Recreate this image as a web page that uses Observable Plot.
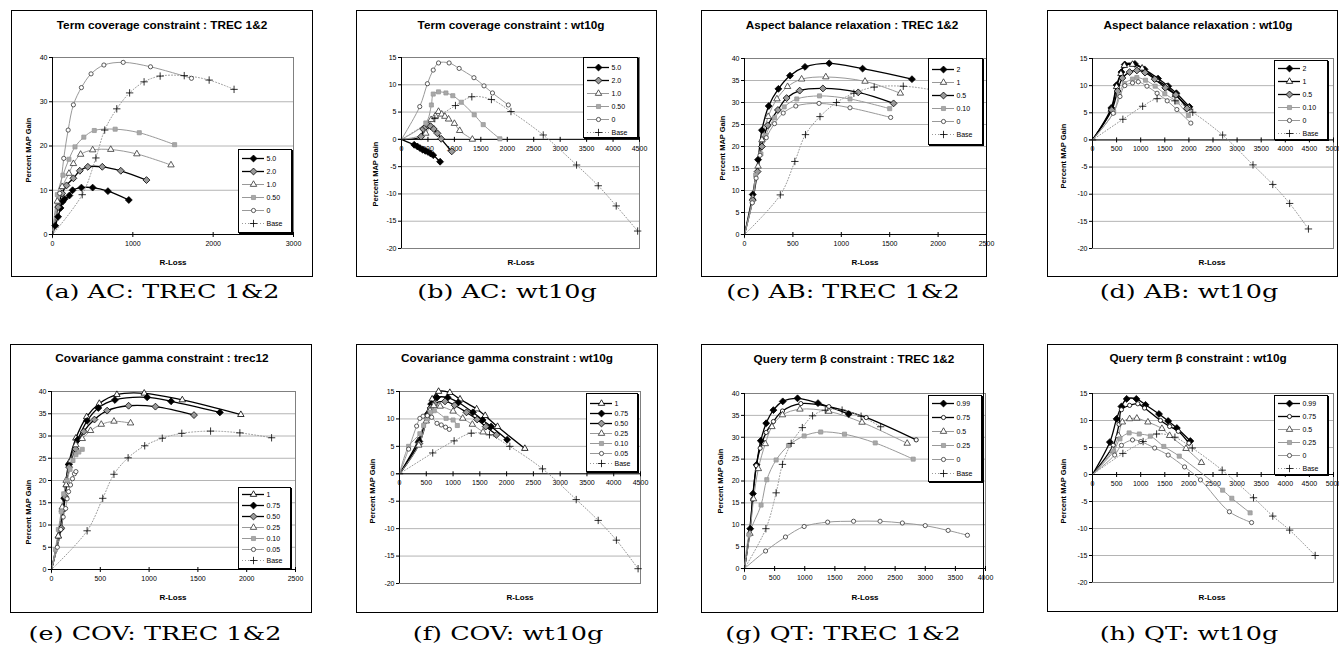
<!DOCTYPE html>
<html><head><meta charset="utf-8">
<script src="https://cdn.jsdelivr.net/npm/d3@7"></script>
<script src="https://cdn.jsdelivr.net/npm/@observablehq/plot@0.6"></script>
<style>
body{margin:0;background:#fff;width:1339px;height:647px;position:relative;overflow:hidden;font-family:"Liberation Sans",Arial,sans-serif;color:#000}
.box{position:absolute;border:1px solid #000;box-sizing:border-box;pointer-events:none}
.pl{position:absolute}
.title{position:absolute;font-weight:bold;font-size:11px;white-space:nowrap;transform:translate(-50%,-50%) scaleX(1.07)}
.xl{position:absolute;font-weight:bold;font-size:8px;white-space:nowrap;transform:translate(-50%,-50%)}
.yl{position:absolute;font-weight:bold;font-size:7.5px;white-space:nowrap;transform:translate(-50%,-50%) rotate(-90deg)}
.cap{position:absolute;font-family:"DejaVu Serif",serif;font-size:19px;white-space:nowrap;transform:translate(-50%,-50%) scaleX(1.34)}
.leg{position:absolute;border:1px solid #000;box-shadow:1px 1px 0 #000;background:#fff;box-sizing:border-box}
</style></head><body>
<script>
// ---------- tick labels ----------
const ticksX3000 = [0,1000,2000,3000];
const ticksX2500 = [0,500,1000,1500,2000,2500];
const ticksX4000 = [0,500,1000,1500,2000,2500,3000,3500,4000];
const ticksX4500 = [0,500,1000,1500,2000,2500,3000,3500,4000,4500];
const ticksX5000 = [0,500,1000,1500,2000,2500,3000,3500,4000,4500,5000];
const ticksY40by10 = [0,10,20,30,40];
const ticksY40by5 = [0,5,10,15,20,25,30,35,40];
const ticksYwt = [-20,-15,-10,-5,0,5,10,15];

// ---------- (a) Term coverage : TREC 1&2 ----------
const acTrecNames = ["5.0","2.0","1.0","0.50","0","Base"];
const acTrec_5 = [[0,0],[35,2],[70,4],[100,6],[125,7.4],[150,8],[210,8.8],[250,10],[360,10.6],[500,10.6],[690,9.8],[950,7.8]];
const acTrec_2 = [[0,0],[70,6.2],[120,9.3],[175,11.1],[260,12.7],[340,14.4],[440,15.3],[620,15.3],[850,14.4],[1170,12.3]];
const acTrec_1 = [[0,0],[60,7.5],[120,10.8],[205,13.8],[260,16],[350,18.1],[500,19.1],[725,19.2],[1050,18.2],[1475,15.7]];
const acTrec_050 = [[0,0],[60,9],[130,13.4],[205,17],[280,19.8],[390,22],[520,23.5],[780,23.8],[1080,23],[1520,20.3]];
const acTrec_0 = [[0,0],[90,9.3],[140,17.2],[195,23.6],[260,29.3],[360,33.2],[480,36.3],[640,38.3],[880,38.9],[1220,37.9],[1730,35.3]];
const acTrec_base = [[0,0],[370,9],[540,17.3],[650,23.6],[800,28.4],[960,32],[1140,34.5],[1340,35.8],[1640,35.9],[1950,34.9],[2260,32.8]];

// ---------- (b) Term coverage : wt10g ----------
const acWtNames = ["5.0","2.0","1.0","0.50","0","Base"];
const acWt_5 = [[0,0],[240,-1.0],[300,-1.3],[350,-1.6],[400,-1.9],[450,-2.1],[500,-2.3],[550,-2.6],[600,-2.9],[730,-4.1]];
const acWt_2 = [[0,0],[370,0.5],[410,1.9],[460,2.3],[500,2.6],[550,2.4],[610,1.9],[680,1.1],[750,0.1],[950,-2.2]];
const acWt_1 = [[0,0],[460,1.1],[560,3.6],[640,4.3],[700,5.1],[760,4.6],[820,4.2],[890,3.7],[1000,2.9],[1100,1.6],[1340,0]];
const acWt_050 = [[0,0],[460,3],[565,6.3],[600,8.3],[700,8.7],[840,8.5],[970,8],[1130,6.8],[1375,4.5],[1545,2.7],[1860,0.1]];
const acWt_0 = [[0,0],[345,6],[490,10.2],[600,12.7],[700,14],[900,14],[1090,13],[1370,11.3],[1560,9.8],[1720,8.5],[2020,6.3]];
const acWt_base = [[0,0],[630,3.8],[1020,6.2],[1330,7.8],[1700,7.3],[2070,5.1],[2680,0.8],[3310,-4.7],[3720,-8.5],[4060,-12.2],[4465,-16.8]];

// ---------- (c) Aspect balance : TREC 1&2 ----------
const abTrecNames = ["2","1","0.5","0.10","0","Base"];
const abTrec_2 = [[0,0],[85,9.1],[140,17],[180,23.7],[250,29.2],[350,33.1],[470,36.1],[625,38.1],[875,38.9],[1220,37.7],[1730,35.3]];
const abTrec_1 = [[0,0],[85,8.3],[140,15.5],[180,21.5],[245,26.8],[335,30.8],[445,33.6],[590,35.3],[840,35.8],[1245,34.8],[1610,32.1]];
const abTrec_05 = [[0,0],[85,7.8],[135,14.3],[180,20],[240,24.8],[345,28.3],[435,31],[570,32.7],[810,33.2],[1175,32.3],[1540,29.8]];
const abTrec_010 = [[0,0],[80,7.5],[115,13.5],[170,18.3],[220,22.5],[310,26.5],[410,29],[540,30.8],[775,31.5],[1090,30.8],[1500,28.6]];
const abTrec_0 = [[0,0],[80,7.2],[120,12.8],[160,18],[225,22],[310,25.2],[400,27.6],[530,29.2],[770,29.8],[1090,28.8],[1510,26.6]];
const abTrec_base = [[0,0],[370,9],[520,16.6],[630,22.7],[780,26.8],[950,30],[1130,32.1],[1340,33.5],[1640,33.7],[1950,32.8],[2260,31]];

// ---------- (d) Aspect balance : wt10g ----------
const abWtNames = ["2","1","0.5","0.10","0","Base"];
const abWt_2 = [[0,0],[390,5.9],[500,10.1],[600,12.5],[670,13.9],[880,14],[1080,13],[1360,11.3],[1570,9.9],[1740,8.6],[2010,6.1]];
const abWt_1 = [[0,0],[390,5.6],[500,9.8],[590,12.2],[660,13.7],[830,13.9],[1030,13.2],[1330,11.1],[1540,9.8],[1720,8.3],[2000,5.9]];
const abWt_05 = [[0,0],[400,5.5],[520,9],[620,11.4],[770,12.5],[920,12.8],[1090,12.4],[1290,11.2],[1510,9.6],[1730,8.3],[1960,5.8]];
const abWt_010 = [[0,0],[440,5.1],[550,8.3],[660,10.4],[830,11.2],[920,11.5],[1100,11],[1300,9.9],[1500,8.5],[1750,7],[1990,4.5]];
const abWt_0 = [[0,0],[430,4.9],[570,8],[670,10],[830,10.5],[950,10.7],[1130,9.9],[1340,8.6],[1550,7.2],[1750,5.6],[2040,3.1]];
const abWt_base = [[0,0],[630,3.8],[1040,6.2],[1340,7.6],[1710,7.2],[2080,5.1],[2700,0.9],[3330,-4.6],[3740,-8.2],[4090,-11.7],[4480,-16.4]];

// ---------- (e) Covariance gamma : TREC 1&2 ----------
const covTrecNames = ["1","0.75","0.50","0.25","0.10","0.05","Base"];
const covTrec_1 = [[0,0],[70,7.5],[110,13.5],[150,19],[180,24],[250,29.5],[360,34.3],[490,37.3],[670,39.3],[950,39.6],[1340,38.1],[1940,34.8]];
const covTrec_075 = [[0,0],[90,9],[130,16],[175,23.6],[270,29.2],[365,33.4],[480,36.3],[650,38.1],[980,38.7],[1225,37.8],[1725,35.3]];
const covTrec_050 = [[0,0],[100,9.3],[140,16.3],[180,23],[245,27.1],[330,31],[440,33.7],[570,35.7],[790,36.8],[1065,36.6],[1460,34.7]];
const covTrec_025 = [[0,0],[70,7.5],[110,14],[150,20],[200,24.5],[250,28],[315,29.4],[400,31.2],[510,32.6],[640,33.3],[810,32.9]];
const covTrec_010 = [[0,0],[40,4.5],[70,9],[100,13],[125,17],[160,20],[190,22.5],[220,24.5],[250,25.8],[280,26.4],[315,27]];
const covTrec_005 = [[0,0],[60,5],[95,9],[120,11.8],[145,13.7],[160,15.9],[175,17.5],[195,19],[215,20.4],[235,21.5],[250,22]];
const covTrec_base = [[0,0],[365,8.7],[525,16],[640,21.4],[785,25.1],[955,27.8],[1135,29.5],[1335,30.6],[1630,31.1],[1930,30.7],[2255,29.6]];

// ---------- (f) Covariance gamma : wt10g ----------
const covWtNames = ["1","0.75","0.50","0.25","0.10","0.05","Base"];
const covWt_1 = [[0,0],[350,6],[540,11.3],[610,13.6],[730,15],[940,14.8],[1130,13.6],[1440,11.8],[1600,10.6],[1830,8.6],[2340,4.6]];
const covWt_075 = [[0,0],[370,5.9],[520,10.8],[590,12.7],[700,13.9],[900,13.9],[1100,13],[1370,11.2],[1550,9.8],[1710,8.6],[2010,6.2]];
const covWt_050 = [[0,0],[370,5.5],[520,10.3],[580,12],[655,12.8],[850,13.2],[1030,12.5],[1250,11.2],[1450,9.9],[1610,8.6],[1810,7.1]];
const covWt_025 = [[0,0],[360,5.2],[500,9.6],[570,11.5],[640,12.4],[760,12.3],[1000,11.4],[1180,10.1],[1360,9],[1560,7.6]];
const covWt_010 = [[0,0],[170,5],[380,7.3],[450,8.8],[520,10],[580,11.2],[650,11.5],[870,10.1],[1000,9.8],[1080,8.8]];
const covWt_005 = [[0,0],[170,4.5],[320,8.7],[380,10.1],[440,10.5],[520,10.6],[600,10.3],[700,9.2],[780,8.9],[860,8.5],[930,8.1]];
const covWt_base = [[0,0],[620,3.8],[1020,6],[1340,7.4],[1680,7.1],[2060,5],[2670,0.9],[3300,-4.7],[3710,-8.5],[4050,-12.1],[4455,-17.3]];

// ---------- (g) Query term beta : TREC 1&2 ----------
const qtTrecNames = ["0.99","0.75","0.5","0.25","0","Base"];
const qtTrec_099 = [[0,0],[95,9.1],[140,17.1],[200,23.7],[270,29.2],[360,33.2],[480,36.2],[635,38.2],[880,38.9],[1220,37.8],[1730,35.3]];
const qtTrec_075 = [[0,0],[80,8],[135,15.8],[195,23.5],[260,27.5],[360,31.1],[480,33.6],[630,36],[935,37.7],[1400,37],[2020,34.5],[2850,29.4]];
const qtTrec_05 = [[0,0],[90,8],[150,15.9],[230,22.8],[345,28.5],[455,32.4],[630,35.1],[920,36.4],[1400,35.9],[1950,33.4],[2700,28.6]];
const qtTrec_025 = [[0,0],[75,7.7],[275,14.5],[370,20.3],[525,24.8],[730,28.1],[990,30.3],[1265,31.2],[1660,30.7],[2170,28.7],[2800,25]];
const qtTrec_0 = [[0,0],[350,4],[680,7.2],[990,9.6],[1380,10.6],[1810,10.8],[2250,10.8],[2620,10.4],[3000,9.8],[3380,8.7],[3700,7.6]];
const qtTrec_base = [[0,0],[355,9.1],[525,17.3],[630,23.8],[775,28.6],[960,32.2],[1130,34.9],[1340,36.2],[1620,36.2],[1935,34.8],[2260,32.4]];

// ---------- (h) Query term beta : wt10g ----------
const qtWtNames = ["0.99","0.75","0.5","0.25","0","Base"];
const qtWt_099 = [[0,0],[360,6],[500,10.3],[600,12.6],[710,14],[910,14],[1100,12.9],[1380,11.2],[1570,9.9],[1750,8.6],[2030,6.2]];
const qtWt_075 = [[0,0],[430,5.4],[550,9.3],[600,12],[770,12.8],[940,13.1],[1080,12.3],[1410,10],[1600,8.9],[1780,8],[2000,5.8]];
const qtWt_05 = [[0,0],[420,4.5],[540,7.2],[620,9.7],[770,10.3],[920,10.4],[1150,9.7],[1440,8.5],[1600,7.2],[1940,4.8],[2260,2.2]];
const qtWt_025 = [[0,0],[440,4.3],[570,6.6],[760,7.7],[970,7.5],[1200,7.1],[1480,5.2],[1800,3.4],[2700,-2.9],[2890,-4.4],[3270,-7.1]];
const qtWt_0 = [[0,0],[460,3.6],[600,5.4],[830,6.4],[1000,6.1],[1290,4.9],[1570,3.6],[1910,1.4],[2240,-1],[2840,-6.9],[3300,-8.9]];
const qtWt_base = [[0,0],[630,3.9],[1050,6.1],[1330,7.5],[1710,6.9],[2070,4.9],[2690,0.8],[3340,-4.3],[3740,-7.7],[4090,-10.3],[4620,-15]];

// ---------- series styles ----------
const STY = {
  BD:{line:"#000",lw:1.3,symbol:"diamond2",fill:"#000",stroke:"#000",r:3.1},
  GD:{line:"#000",lw:1.3,symbol:"diamond2",fill:"#9a9a9a",stroke:"#000",r:3.1},
  TK:{line:"#000",lw:1.3,symbol:"triangle",fill:"#fff",stroke:"#000",r:2.4},
  TG:{line:"#999",lw:1,symbol:"triangle",fill:"#fff",stroke:"#333",r:2.4},
  SG:{line:"#999",lw:1,symbol:"square",fill:"#a8a8a8",stroke:"#999",r:2.3},
  CK:{line:"#000",lw:1.3,symbol:"circle",fill:"#fff",stroke:"#000",r:2.1},
  CG:{line:"#999",lw:1,symbol:"circle",fill:"#fff",stroke:"#333",r:2.1},
  BS:{line:"#999",lw:1,dash:"1,2",symbol:"plus",fill:"none",stroke:"#000",r:2.5}
};

const panels = [
 {title:"Term coverage constraint : TREC 1&2", cap:"(a) AC: TREC 1&2", frame:[11,10,313,277], plot:[52,57,293,234],
  xDomain:[0,3000], xTicks:ticksX3000, yDomain:[0,40], yTicks:ticksY40by10, names:acTrecNames,
  series:[acTrec_5,acTrec_2,acTrec_1,acTrec_050,acTrec_0,acTrec_base], styles:["BD","GD","TG","SG","CG","BS"],
  leg:[238,149,292,233], legRows:[7,75], titlePos:[162,25], xlPos:[173,262], ylPos:[28,150], capPos:[162,291]},
 {title:"Term coverage constraint : wt10g", cap:"(b) AC: wt10g", frame:[356,10,657,277], plot:[401,57,639,248],
  xDomain:[0,4500], xTicks:ticksX4500, yDomain:[-20,15], yTicks:ticksYwt, names:acWtNames,
  series:[acWt_5,acWt_2,acWt_1,acWt_050,acWt_0,acWt_base], styles:["BD","GD","TG","SG","CG","BS"],
  leg:[583,57,638,138], legRows:[9,76], titlePos:[511,25], xlPos:[521,262], ylPos:[375,174], capPos:[507,291]},
 {title:"Aspect balance relaxation : TREC 1&2", cap:"(c) AB: TREC 1&2", frame:[701,10,987,277], plot:[744,58,986,234],
  xDomain:[0,2500], xTicks:ticksX2500, yDomain:[0,40], yTicks:ticksY40by5, names:abTrecNames,
  series:[abTrec_2,abTrec_1,abTrec_05,abTrec_010,abTrec_0,abTrec_base], styles:["BD","TG","GD","SG","CG","BS"],
  leg:[928,58,983,145], legRows:[10,77], titlePos:[852,25], xlPos:[865,262], ylPos:[722,148], capPos:[843,291]},
 {title:"Aspect balance relaxation : wt10g", cap:"(d) AB: wt10g", frame:[1047,10,1338,277], plot:[1092,58,1333,248],
  xDomain:[0,5000], xTicks:ticksX5000, yDomain:[-20,15], yTicks:ticksYwt, names:abWtNames,
  series:[abWt_2,abWt_1,abWt_05,abWt_010,abWt_0,abWt_base], styles:["BD","TK","GD","SG","CG","BS"],
  leg:[1274,60,1328,140], legRows:[6,75], titlePos:[1198,25], xlPos:[1212,262], ylPos:[1063,156], capPos:[1189,291]},
 {title:"Covariance gamma constraint : trec12", cap:"(e) COV: TREC 1&2", frame:[10,344,312,613], plot:[51,391,295,569],
  xDomain:[0,2500], xTicks:ticksX2500, yDomain:[0,40], yTicks:ticksY40by5, names:covTrecNames,
  series:[covTrec_1,covTrec_075,covTrec_050,covTrec_025,covTrec_010,covTrec_005,covTrec_base], styles:["TK","BD","GD","TG","SG","CG","BS"],
  leg:[238,487,291,569], legRows:[4,75], titlePos:[162,358], xlPos:[173,597], ylPos:[28,512], capPos:[155,633]},
 {title:"Covariance gamma constraint : wt10g", cap:"(f) COV: wt10g", frame:[356,344,658,613], plot:[399,391,640,583],
  xDomain:[0,4500], xTicks:ticksX4500, yDomain:[-20,15], yTicks:ticksYwt, names:covWtNames,
  series:[covWt_1,covWt_075,covWt_050,covWt_025,covWt_010,covWt_005,covWt_base], styles:["TK","BD","GD","TG","SG","CG","BS"],
  leg:[586,393,638,472], legRows:[8,71], titlePos:[507,358], xlPos:[520,597], ylPos:[372,491], capPos:[508,633]},
 {title:"Query term \u03b2 constraint : TREC 1&2", cap:"(g) QT: TREC 1&2", frame:[701,344,984,613], plot:[744,393,985,568],
  xDomain:[0,4000], xTicks:ticksX4000, yDomain:[0,40], yTicks:ticksY40by5, names:qtTrecNames,
  series:[qtTrec_099,qtTrec_075,qtTrec_05,qtTrec_025,qtTrec_0,qtTrec_base], styles:["BD","CK","TG","SG","CG","BS"],
  leg:[928,395,982,482], legRows:[8,78], titlePos:[854,359], xlPos:[865,597], ylPos:[720,481], capPos:[843,633]},
 {title:"Query term \u03b2 constraint : wt10g", cap:"(h) QT: wt10g", frame:[1047,344,1338,612], plot:[1092,393,1333,582],
  xDomain:[0,5000], xTicks:ticksX5000, yDomain:[-20,15], yTicks:ticksYwt, names:qtWtNames,
  series:[qtWt_099,qtWt_075,qtWt_05,qtWt_025,qtWt_0,qtWt_base], styles:["BD","CK","TG","SG","CG","BS"],
  leg:[1274,395,1328,475], legRows:[6,75], titlePos:[1198,358], xlPos:[1212,597], ylPos:[1063,491], capPos:[1189,633]}
];

const FONT = "Liberation Sans, Arial, sans-serif";
function el(cls, text, x, y){
  const d = document.createElement("div");
  d.className = cls; d.textContent = text;
  d.style.left = x + "px"; d.style.top = y + "px";
  document.body.appendChild(d); return d;
}

function makePanel(p){
  const [fx0,fy0,fx1,fy1] = p.frame;
  const [px0,py0,px1,py1] = p.plot;
  const W = fx1 - fx0, H = fy1 - fy0;
  const marks = [
    Plot.ruleY(p.yTicks, {y:d=>d, stroke:"#b4b4b4"}),
    Plot.frame({stroke:"#808080"}),
    Plot.ruleX([0], {stroke:"#000"}),
    Plot.ruleY([0], {stroke:"#000"}),
    Plot.ruleX(p.xTicks, {x:d=>d, y1:0, y2:0, insetTop:-2, insetBottom:-3, stroke:"#000"}),
    Plot.text(p.xTicks, {x:d=>d, y:0, dy:9, text:d=>String(d), fontSize:7, fill:"#000"})
  ];
  p.series.forEach((pts,i)=>{
    const s = STY[p.styles[i]];
    marks.push(Plot.line(pts, {x:d=>d[0], y:d=>d[1], stroke:s.line, strokeWidth:s.lw, strokeDasharray:s.dash, curve:"catmull-rom"}));
  });
  p.series.forEach((pts,i)=>{
    const s = STY[p.styles[i]];
    const shown = p.styles[i] === "BS" ? pts : pts.filter(d=>d[0] > 0);
    marks.push(Plot.dot(shown, {x:d=>d[0], y:d=>d[1], symbol:s.symbol, r:s.r, fill:s.fill, stroke:s.stroke, strokeWidth:0.8}));
  });
  const svg = Plot.plot({
    width:W, height:H,
    marginLeft:px0-fx0, marginRight:fx1-px1, marginTop:py0-fy0, marginBottom:fy1-py1,
    x:{domain:p.xDomain, axis:null},
    y:{domain:p.yDomain, ticks:p.yTicks, tickSize:3, tickPadding:2, tickFormat:d=>String(d), label:null},
    style:{fontFamily:FONT, fontSize:"7px", background:"transparent", overflow:"visible", color:"#000"},
    marks
  });
  const wrap = document.createElement("div");
  wrap.className = "pl";
  wrap.style.left = fx0 + "px"; wrap.style.top = fy0 + "px";
  wrap.style.width = W + "px"; wrap.style.height = H + "px";
  wrap.appendChild(svg);
  document.body.appendChild(wrap);

  const box = document.createElement("div");
  box.className = "box";
  box.style.left = fx0 + "px"; box.style.top = fy0 + "px";
  box.style.width = W + "px"; box.style.height = H + "px";
  document.body.appendChild(box);

  el("title", p.title, p.titlePos[0], p.titlePos[1]);
  el("xl", "R-Loss", p.xlPos[0], p.xlPos[1]);
  el("yl", "Percent MAP Gain", p.ylPos[0], p.ylPos[1]);
  el("cap", p.cap, p.capPos[0], p.capPos[1]);

  // legend
  const [lx0,ly0,lx1,ly1] = p.leg;
  const lw = lx1 - lx0, lh = ly1 - ly0;
  const lmarks = [];
  p.names.forEach((n,i)=>{
    const s = STY[p.styles[i]];
    lmarks.push(Plot.ruleY([n], {y:d=>d, x1:0, x2:1, stroke:s.line, strokeWidth:s.lw, strokeDasharray:s.dash}));
    lmarks.push(Plot.dot([n], {x:0.5, y:d=>d, symbol:s.symbol, r:s.r, fill:s.fill, stroke:s.stroke, strokeWidth:0.8}));
  });
  lmarks.push(Plot.text(p.names, {x:1, y:d=>d, text:d=>d, textAnchor:"start", dx:2, fontSize:7, fill:"#000"}));
  const lg = Plot.plot({
    width:lw-2, height:lh-2, margin:0,
    x:{domain:[0,1], range:[3,25], axis:null},
    y:{type:"point", domain:p.names, range:[p.legRows[0]-1, p.legRows[1]-1], padding:0, axis:null},
    style:{fontFamily:FONT, fontSize:"7px", background:"transparent", overflow:"visible"},
    marks:lmarks
  });
  const ld = document.createElement("div");
  ld.className = "leg";
  ld.style.left = lx0 + "px"; ld.style.top = ly0 + "px";
  ld.style.width = lw + "px"; ld.style.height = lh + "px";
  ld.appendChild(lg);
  document.body.appendChild(ld);
}
panels.forEach(makePanel);
</script>
</body></html>
